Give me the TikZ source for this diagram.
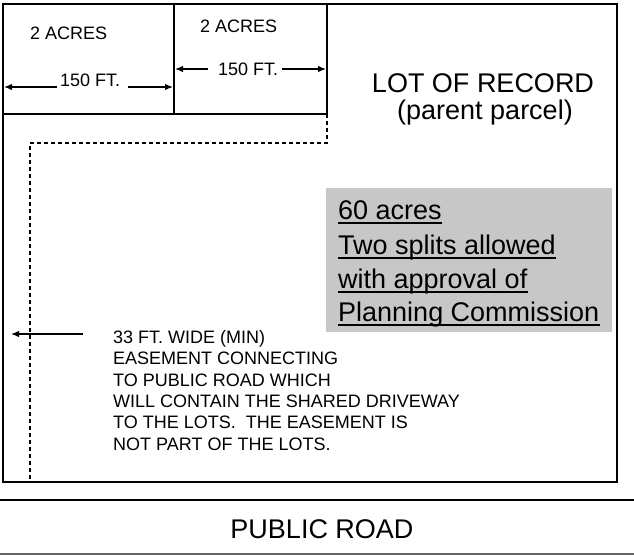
\documentclass[tikz,border=0pt]{standalone}
\usepackage{fontspec}
\setmainfont{Liberation Sans}
\usetikzlibrary{arrows.meta}
\begin{document}
\begin{tikzpicture}[x=1pt,y=-1pt,
  bound/.style={line width=1.5pt},
  easeline/.style={line width=1.4pt, dash pattern=on 4pt off 3pt},
  dimarrow/.style={line width=1.3pt, -{Latex[length=8pt,width=6.5pt]}},
  bigtxt/.style={inner sep=0pt, font=\fontsize{27}{34}\selectfont},
  smalltxt/.style={inner sep=0pt, font=\fontsize{18}{21.3}\selectfont},
  notetxt/.style={inner sep=0pt, anchor=base west, font=\fontsize{27}{34}\selectfont},
  uline/.style={line width=1.8pt}]
\useasboundingbox (0,0) rectangle (634,555);
% parent parcel
\coordinate (lotNW) at (3,4);
\coordinate (lotSE) at (617,482);
\draw[bound] (lotNW) rectangle (lotSE);
% split lots
\coordinate (l1top) at (174,4);
\coordinate (l1bot) at (174,114);
\coordinate (l2top) at (327,4);
\coordinate (l2bot) at (327,114);
\coordinate (lotsW) at (3,114);
\draw[bound] (l1top) -- (l1bot);
\draw[bound] (l2top) -- (l2bot);
\draw[bound] (lotsW) -- (l2bot);
% easement dashed
\coordinate (e1) at (327,143);
\coordinate (e2) at (30,143);
\coordinate (e3) at (30,482);
\draw[easeline] (l2bot) -- (e1) -- (e2) -- (e3);
% road
\coordinate (r1w) at (0,500);
\coordinate (r1e) at (634,500);
\coordinate (r2w) at (0,554);
\coordinate (r2e) at (634,554);
\draw[line width=1.8pt] (r1w) -- (r1e);
\draw[line width=1.2pt, black!60] (r2w) -- (r2e);
\node[bigtxt, anchor=base] (road) at (322,538) {PUBLIC ROAD};
% lot labels
\node[smalltxt, anchor=base west] (ac1) at (30,39) {2 ACRES};
\node[smalltxt, anchor=base west] (ac2) at (200,32) {2 ACRES};
\node[smalltxt, anchor=base west] (ft1) at (60,86) {150 FT.};
\node[smalltxt, anchor=base west] (ft2) at (218,75) {150 FT.};
\coordinate (a1l) at (57,87); \coordinate (a1lt) at (4,87);
\coordinate (a1r) at (128,87); \coordinate (a1rt) at (173,87);
\coordinate (a2l) at (208,69); \coordinate (a2lt) at (175,69);
\coordinate (a2r) at (282,69); \coordinate (a2rt) at (326,69);
\draw[dimarrow] (a1l) -- (a1lt);
\draw[dimarrow] (a1r) -- (a1rt);
\draw[dimarrow] (a2l) -- (a2lt);
\draw[dimarrow] (a2r) -- (a2rt);
% lot of record
\node[bigtxt, anchor=base] (lor) at (483,92) {LOT OF RECORD};
\node[bigtxt, anchor=base] (pp) at (485,119) {(parent parcel)};
% note box
\node[fill=black!22, minimum width=286pt, minimum height=144pt, inner sep=0pt, anchor=north west] (gbox) at (326,188) {};
\node[notetxt] (n1) at (338,219) {60 acres};
\node[notetxt] (n2) at (338,254) {Two splits allowed};
\node[notetxt] (n3) at (338,288) {with approval of};
\node[notetxt] (n4) at (338,321) {Planning Commission};
\foreach \n in {n1,n2,n3,n4}
  \draw[uline] ([yshift=-4pt]\n.base west) -- ([yshift=-4pt]\n.base east);
% easement note
\coordinate (ea) at (83,334);
\coordinate (eat) at (11,334);
\draw[dimarrow] (ea) -- (eat);
\node[smalltxt, anchor=base west, align=left] (enote) at (113,450) {33 FT. WIDE (MIN)\\EASEMENT CONNECTING\\TO PUBLIC ROAD WHICH\\WILL CONTAIN THE SHARED DRIVEWAY\\TO THE LOTS.\ \ THE EASEMENT IS\\NOT PART OF THE LOTS.};
\end{tikzpicture}
\end{document}
